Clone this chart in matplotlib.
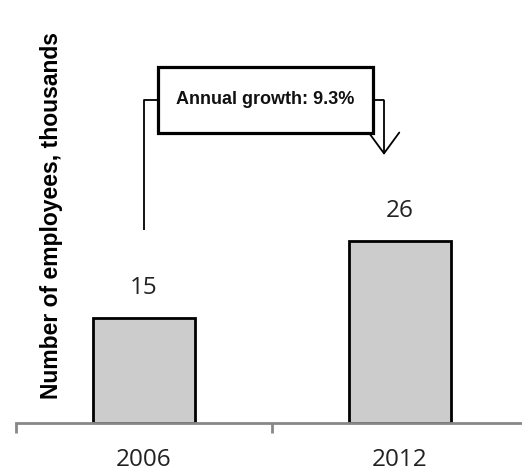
import matplotlib
matplotlib.use("Agg")
import matplotlib.pyplot as plt
from matplotlib.patches import Rectangle

# Data
years = ["2006", "2012"]
employees = [15, 26]
growth_label = "Annual growth: 9.3%"

W, H = 522, 473
fig = plt.figure(figsize=(W / 100, H / 100), dpi=100)
fig.patch.set_facecolor("white")

# Axes spans past the right edge so the category grid lines up
ax = fig.add_axes([16 / W, 50 / H, 512 / W, 420 / H])
ax.set_xlim(-0.5, 1.5)
ax.set_ylim(0, 60)

x = list(range(len(years)))
ax.bar(x, employees, width=0.4, color="#cccccc", edgecolor="black",
       linewidth=2.0, zorder=2)

num_font = "Open Sans"
for xi, v in zip(x, employees):
    ax.text(xi, v + 2.6, str(v), ha="center", va="bottom",
            fontsize=17.5, family=num_font, color="#222222")

# Axis styling
for s in ["left", "right", "top"]:
    ax.spines[s].set_visible(False)
ax.spines["bottom"].set_color("#888888")
ax.spines["bottom"].set_linewidth(2.0)
ax.set_yticks([])
ax.set_xticks(x)
ax.set_xticklabels(years, family=num_font, fontsize=17.5, color="#222222")
ax.tick_params(axis="x", which="major", length=0, pad=18)
ax.set_xticks([-0.5, 0.5, 1.5], minor=True)
ax.tick_params(axis="x", which="minor", length=7, width=2.0, color="#888888",
               direction="out")

# Growth bracket: rises from the first bar, crosses the label box and
# points down toward the second bar
bracket_top = employees[1] + 20.1
left_start = employees[1] + 1.6
arrow_tip = employees[1] + 12.3
x_left = x[0]
x_right = 0.9375
box_x0, box_x1 = 0.055, 0.895
box_y0, box_y1 = 41.4, 50.9

ax.plot([x_left, x_left, box_x0], [left_start, bracket_top, bracket_top],
        color="black", linewidth=1.3, solid_capstyle="butt", zorder=3)
ax.plot([box_x1, x_right], [bracket_top, bracket_top],
        color="black", linewidth=1.3, solid_capstyle="butt", zorder=3)
ax.annotate("", xy=(x_right, arrow_tip), xytext=(x_right, bracket_top),
            arrowprops=dict(arrowstyle="->,head_length=0.75,head_width=0.55",
                            mutation_scale=20, color="black", linewidth=1.3,
                            shrinkA=0, shrinkB=0),
            zorder=3)
ax.add_patch(Rectangle((box_x0, box_y0), box_x1 - box_x0, box_y1 - box_y0,
                       facecolor="white", edgecolor="black", linewidth=2.3,
                       zorder=4))
ax.text((box_x0 + box_x1) / 2, (box_y0 + box_y1) / 2, growth_label,
        ha="center", va="center", fontsize=13, fontweight="bold",
        family="Liberation Sans", color="#111111", zorder=5)

fig.text(52 / W, 1 - 215 / H, "Number of employees, thousands",
         rotation=90, ha="center", va="center", fontsize=16.5,
         fontweight="bold", family="Liberation Sans", color="black")

fig.savefig("out.png", dpi=100, facecolor="white")
